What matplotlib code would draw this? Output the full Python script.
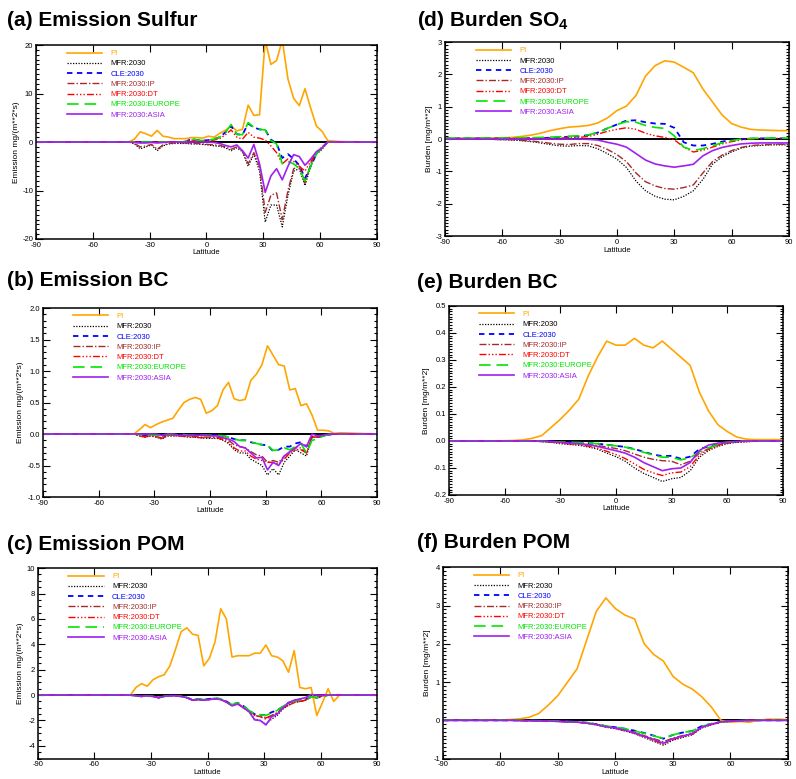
import numpy as np
import matplotlib
matplotlib.use("Agg")
import matplotlib.pyplot as plt
from matplotlib.ticker import MultipleLocator, AutoMinorLocator, FormatStrFormatter

plt.rcParams['font.family'] = ['Liberation Sans', 'DejaVu Sans']
plt.rcParams['mathtext.fontset'] = 'custom'
plt.rcParams['mathtext.rm'] = 'Liberation Sans'
plt.rcParams['mathtext.bf'] = 'Liberation Sans:bold'
plt.rcParams['axes.unicode_minus'] = False

# latitude grids (emission fields at ~3 deg, burdens at 5 deg)
lat_emis = [-90, -60, -44, -41, -38, -35, -32, -29, -26, -23, -20, -17, -14, -11,
            -8, -5, -2, 1, 4, 7, 10, 13, 16, 19, 22, 25, 28, 31, 34, 37, 40,
            43, 46, 49, 52, 55, 58, 61, 64, 67, 70, 90]
lat_burd = [-90, -85, -80, -75, -70, -65, -60, -55, -50, -45, -40, -35, -30, -25,
            -20, -15, -10, -5, 0, 5, 10, 15, 20, 25, 30, 35, 40, 45, 50, 55, 60,
            65, 70, 75, 80, 85, 90]

names = ['PI', 'MFR:2030', 'CLE:2030', 'MFR:2030:IP', 'MFR:2030:DT',
         'MFR:2030:EUROPE', 'MFR:2030:ASIA']

# (a) emission sulfur
so2_pi = [0, 0, 0, 0.0, 0.6, 2.1, 1.7, 1.2, 2.4, 1.2, 1.0, 0.7, 0.7, 0.7, 0.9, 0.9, 0.8,
          1.2, 1.0, 1.8, 2.4, 3.3, 2.3, 2.6, 7.6, 5.5, 5.6, 21.0, 16.0, 16.8, 21.0,
          13.0, 9.0, 7.5, 11.0, 7.0, 3.3, 2.2, 0.3, 0.2, 0.1, 0]
so2_mfr = [0, 0, 0, 0, -0.4, -1.4, -1.0, -0.6, -1.8, -0.8, -0.4, -0.3, -0.3, -0.3, -0.4,
           -0.4, -0.5, -0.6, -0.8, -0.9, -1.2, -1.8, -1.2, -2.0, -5.0, -2.5, -6.0, -16.5,
           -13.0, -13.0, -17.5, -11.0, -6.0, -5.5, -9.0, -5.0, -2.5, -1.5, 0, 0, 0, 0]
so2_cle = [0, 0, 0, 0, 0, 0, 0, 0, 0, 0, 0, 0, 0, 0.1, 0.6, 0.4, 0.3, 0.4, 0.6, 1.0, 2.0,
           3.3, 1.6, 1.5, 3.8, 3.0, 2.6, 2.5, 0.5, -0.3, -3.3, -2.5, -3.5, -4.8, -7.5,
           -5.0, -2.5, -1.2, 0, 0, 0, 0]
so2_ip = [0, 0, 0, 0, -0.3, -1.0, -0.8, -0.5, -1.5, -0.6, -0.3, -0.2, -0.2, -0.2, -0.3,
          -0.3, -0.4, -0.5, -0.6, -0.7, -1.0, -1.5, -1.0, -1.8, -4.5, -2.2, -5.0, -14.5,
          -11.0, -10.5, -16.0, -10.0, -5.5, -5.0, -8.5, -4.5, -2.3, -1.3, 0, 0, 0, 0]
so2_dt = [0, 0, 0, 0, 0, 0, 0, 0, 0, 0, 0, 0, 0, 0.1, 0.4, 0.3, 0.2, 0.3, 0.4, 0.7, 1.5,
          2.5, 1.0, 0.6, 2.0, 1.0, 0.8, 0.4, -0.8, -2.2, -4.5, -3.5, -4.0, -5.0, -6.0,
          -4.0, -2.2, -1.0, 0, 0, 0, 0]
so2_eur = [0, 0, 0, 0, 0, 0, 0, 0, 0, 0, 0, 0, 0, 0.1, 0.7, 0.4, 0.3, 0.4, 0.6, 1.0, 2.0,
           3.6, 1.6, 1.5, 4.0, 3.0, 2.6, 2.5, 0.3, -0.4, -4.5, -4.0, -4.5, -5.5, -8.0,
           -5.0, -2.5, -1.2, 0, 0, 0, 0]
so2_asia = [0, 0, 0, 0, -0.1, -0.2, -0.2, -0.1, -0.2, -0.1, 0, 0, 0, 0, 0, 0, 0, 0, -0.1,
            -0.3, -0.7, -1.0, -0.6, -1.8, -3.3, -0.5, -4.5, -10.4, -7.0, -5.5, -7.8,
            -5.0, -2.6, -3.0, -4.8, -3.5, -2.0, -1.2, 0, 0, 0, 0]

# (b) emission BC
bce_pi = [0, 0, 0, 0, 0.07, 0.15, 0.1, 0.15, 0.19, 0.22, 0.25, 0.38, 0.5, 0.55, 0.58,
          0.55, 0.33, 0.37, 0.45, 0.7, 0.82, 0.56, 0.53, 0.55, 0.85, 0.95, 1.1, 1.4,
          1.25, 1.1, 1.08, 0.7, 0.72, 0.45, 0.48, 0.3, 0.06, 0.06, 0.05, 0.01, 0.02, 0]
bce_mfr = [0, 0, 0, 0, -0.03, -0.05, -0.03, -0.05, -0.08, -0.03, -0.03, -0.03, -0.04,
           -0.05, -0.05, -0.06, -0.07, -0.07, -0.07, -0.1, -0.15, -0.25, -0.3, -0.3,
           -0.4, -0.45, -0.5, -0.65, -0.55, -0.65, -0.45, -0.35, -0.25, -0.3, -0.35,
           -0.05, -0.05, -0.03, -0.01, 0, 0, 0]
bce_cle = [0, 0, 0, 0, -0.01, -0.02, -0.01, -0.02, -0.03, -0.01, -0.01, -0.01, -0.01,
           -0.02, -0.02, -0.02, -0.02, -0.02, -0.02, -0.03, -0.05, -0.08, -0.1, -0.1,
           -0.13, -0.15, -0.17, -0.18, -0.27, -0.25, -0.2, -0.2, -0.15, -0.13, -0.2,
           -0.04, -0.05, -0.03, -0.01, 0, 0, 0]
bce_ip = [0, 0, 0, 0, -0.02, -0.04, -0.02, -0.04, -0.06, -0.02, -0.02, -0.02, -0.03,
          -0.04, -0.04, -0.05, -0.05, -0.05, -0.05, -0.07, -0.1, -0.17, -0.2, -0.22,
          -0.28, -0.33, -0.35, -0.45, -0.42, -0.45, -0.35, -0.3, -0.22, -0.22, -0.3,
          -0.04, -0.05, -0.03, -0.01, 0, 0, 0]
bce_dt = [0, 0, 0, 0, -0.03, -0.05, -0.03, -0.05, -0.07, -0.03, -0.03, -0.03, -0.04,
          -0.05, -0.05, -0.06, -0.06, -0.06, -0.06, -0.09, -0.13, -0.22, -0.27, -0.27,
          -0.35, -0.4, -0.42, -0.45, -0.45, -0.48, -0.4, -0.3, -0.25, -0.25, -0.3,
          -0.05, -0.05, -0.03, -0.01, 0, 0, 0]
bce_eur = [0, 0, 0, 0, -0.01, -0.02, -0.01, -0.02, -0.03, -0.01, -0.01, -0.01, -0.01,
           -0.02, -0.02, -0.02, -0.02, -0.02, -0.02, -0.03, -0.05, -0.08, -0.1, -0.1,
           -0.13, -0.15, -0.17, -0.18, -0.26, -0.25, -0.22, -0.25, -0.2, -0.15, -0.3,
           -0.1, -0.08, -0.03, -0.01, 0, 0, 0]
bce_asia = [0, 0, 0, 0, 0, 0, 0, 0, -0.02, 0, 0, -0.02, -0.02, -0.02, -0.02, -0.02,
            -0.02, -0.03, -0.03, -0.06, -0.08, -0.12, -0.2, -0.22, -0.3, -0.38, -0.37,
            -0.57, -0.45, -0.5, -0.35, -0.28, -0.22, -0.15, -0.2, 0.0, -0.03, -0.02,
            0, 0, 0, 0]

# (c) emission POM
pome_pi = [0, 0, 0, 0, 0.6, 0.9, 0.7, 1.2, 1.45, 1.6, 2.3, 3.6, 5.0, 5.3, 4.8, 4.7, 2.3,
           2.9, 4.2, 6.8, 6.0, 3.0, 3.1, 3.1, 3.1, 3.3, 3.3, 3.95, 3.1, 3.0, 2.7, 1.8,
           3.5, 0.6, 0.5, 0.6, -1.6, -0.6, 0.5, -0.5, 0.0, 0]
pome_mfr = [0, 0, 0, 0, -0.05, -0.1, -0.05, -0.1, -0.2, -0.1, -0.05, -0.05, -0.1, -0.2,
            -0.4, -0.35, -0.4, -0.35, -0.3, -0.35, -0.55, -0.85, -0.7, -1.0, -1.3, -1.9,
            -2.0, -2.3, -1.9, -1.6, -1.1, -0.8, -0.55, -0.5, -0.4, -0.15, -0.2, -0.05,
            0, 0, 0, 0]
pome_cle = [0, 0, 0, 0, -0.05, -0.1, -0.05, -0.1, -0.2, -0.1, -0.05, -0.05, -0.1, -0.2,
            -0.35, -0.3, -0.35, -0.3, -0.25, -0.3, -0.5, -0.75, -0.6, -0.85, -1.2, -1.5,
            -1.55, -1.6, -1.35, -1.2, -0.9, -0.6, -0.45, -0.35, -0.3, -0.15, -0.2, -0.1,
            0, 0, 0, 0]
pome_ip = [0, 0, 0, 0, -0.05, -0.1, -0.05, -0.1, -0.2, -0.1, -0.05, -0.05, -0.1, -0.2,
           -0.4, -0.35, -0.4, -0.35, -0.3, -0.35, -0.55, -0.8, -0.65, -0.95, -1.25, -1.6,
           -1.7, -1.9, -1.6, -1.4, -1.0, -0.8, -0.6, -0.5, -0.4, -0.15, -0.2, -0.05,
           0, 0, 0, 0]
pome_dt = [0, 0, 0, 0, -0.05, -0.1, -0.05, -0.1, -0.2, -0.1, -0.05, -0.05, -0.1, -0.2,
           -0.4, -0.35, -0.4, -0.35, -0.3, -0.35, -0.55, -0.8, -0.65, -0.95, -1.25, -1.6,
           -1.7, -1.8, -1.6, -1.4, -1.05, -0.75, -0.55, -0.5, -0.4, -0.15, -0.2, -0.05,
           0, 0, 0, 0]
pome_eur = [0, 0, 0, 0, -0.05, -0.1, -0.05, -0.1, -0.2, -0.1, -0.05, -0.05, -0.1, -0.2,
            -0.35, -0.3, -0.35, -0.3, -0.25, -0.3, -0.5, -0.75, -0.6, -0.85, -1.2, -1.5,
            -1.55, -1.6, -1.4, -1.2, -0.9, -0.6, -0.45, -0.35, -0.3, -0.15, -0.2, -0.1,
            0, 0, 0, 0]
pome_asia = [0, 0, 0, 0, -0.05, -0.1, -0.05, -0.1, -0.2, -0.1, -0.05, -0.05, -0.1, -0.2,
             -0.4, -0.35, -0.4, -0.35, -0.3, -0.35, -0.55, -0.85, -0.7, -1.0, -1.3,
             -1.95, -2.0, -2.35, -1.7, -1.5, -1.0, -0.6, -0.4, -0.3, -0.2, 0.05, 0.0,
             0, 0, 0, 0, 0]

# (d) burden SO4
so4_pi = [0.02, 0.02, 0.02, 0.02, 0.03, 0.03, 0.04, 0.05, 0.08, 0.12, 0.18, 0.26, 0.32,
          0.37, 0.39, 0.42, 0.5, 0.65, 0.88, 1.02, 1.35, 1.95, 2.27, 2.42, 2.38, 2.22,
          2.05, 1.55, 1.15, 0.75, 0.48, 0.37, 0.3, 0.28, 0.27, 0.26, 0.26]
so4_mfr = [0, 0, 0, 0, 0, -0.01, -0.02, -0.03, -0.05, -0.08, -0.12, -0.17, -0.21, -0.22,
           -0.2, -0.21, -0.3, -0.45, -0.62, -0.88, -1.3, -1.6, -1.77, -1.86, -1.88,
           -1.77, -1.6, -1.25, -0.78, -0.55, -0.4, -0.28, -0.22, -0.2, -0.18, -0.18, -0.18]
so4_cle = [0.02, 0.02, 0.02, 0.02, 0.02, 0.02, 0.02, 0.02, 0.02, 0.03, 0.03, 0.04, 0.05,
           0.07, 0.08, 0.12, 0.2, 0.33, 0.45, 0.57, 0.58, 0.52, 0.48, 0.47, 0.35, -0.1,
           -0.2, -0.2, -0.15, -0.08, -0.03, 0.0, 0.01, 0.02, 0.02, 0.02, 0.02]
so4_ip = [0, 0, 0, 0, 0, -0.01, -0.02, -0.02, -0.04, -0.06, -0.09, -0.13, -0.16, -0.17,
          -0.14, -0.14, -0.2, -0.32, -0.48, -0.7, -1.05, -1.32, -1.45, -1.53, -1.55, -1.5,
          -1.42, -1.05, -0.7, -0.5, -0.36, -0.26, -0.2, -0.18, -0.17, -0.16, -0.16]
so4_dt = [0.02, 0.02, 0.02, 0.02, 0.02, 0.02, 0.02, 0.02, 0.02, 0.02, 0.02, 0.02, 0.03,
          0.04, 0.05, 0.08, 0.15, 0.24, 0.3, 0.35, 0.3, 0.18, 0.1, 0.05, -0.02, -0.25,
          -0.4, -0.35, -0.25, -0.15, -0.08, -0.03, 0.0, 0.01, 0.02, 0.02, 0.02]
so4_eur = [0.03, 0.03, 0.03, 0.03, 0.03, 0.03, 0.03, 0.03, 0.04, 0.04, 0.05, 0.06, 0.07,
           0.09, 0.1, 0.13, 0.2, 0.33, 0.45, 0.54, 0.52, 0.42, 0.36, 0.33, 0.1, -0.25,
           -0.35, -0.3, -0.2, -0.12, -0.05, 0.0, 0.02, 0.03, 0.03, 0.03, 0.03]
so4_asia = [0, 0, 0, 0, 0, 0, 0, 0, 0, 0, 0, 0, 0, 0, 0, -0.01, -0.03, -0.1, -0.16,
            -0.25, -0.45, -0.65, -0.77, -0.83, -0.87, -0.83, -0.78, -0.52, -0.36, -0.26,
            -0.2, -0.15, -0.13, -0.12, -0.12, -0.12, -0.12]

# (e) burden BC
bcb_pi = [0, 0, 0, 0, 0, 0, 0.001, 0.002, 0.004, 0.01, 0.02, 0.05, 0.08, 0.115, 0.155,
          0.24, 0.31, 0.37, 0.355, 0.355, 0.38, 0.355, 0.345, 0.37, 0.34, 0.31, 0.28,
          0.18, 0.11, 0.06, 0.035, 0.015, 0.007, 0.005, 0.005, 0.005, 0.005]
bcb_mfr = [0, 0, 0, 0, 0, 0, 0, 0, 0, 0, -0.002, -0.005, -0.01, -0.013, -0.016, -0.022,
           -0.03, -0.045, -0.058, -0.075, -0.1, -0.12, -0.135, -0.15, -0.14, -0.135,
           -0.11, -0.06, -0.035, -0.02, -0.01, -0.005, -0.003, -0.001, -0.001, -0.001,
           -0.001]
bcb_cle = [0, 0, 0, 0, 0, 0, 0, 0, 0, 0, -0.001, -0.002, -0.004, -0.005, -0.006, -0.008,
           -0.01, -0.014, -0.018, -0.022, -0.03, -0.04, -0.05, -0.056, -0.055, -0.066,
           -0.058, -0.03, -0.02, -0.01, -0.005, -0.002, 0, 0, 0, 0, 0]
bcb_ip = [0, 0, 0, 0, 0, 0, 0, 0, 0, 0, -0.001, -0.003, -0.006, -0.008, -0.01, -0.013,
          -0.017, -0.022, -0.028, -0.036, -0.048, -0.06, -0.068, -0.073, -0.075, -0.088,
          -0.075, -0.045, -0.028, -0.015, -0.007, -0.003, -0.001, 0, 0, 0, 0]
bcb_dt = [0, 0, 0, 0, 0, 0, 0, 0, 0, 0, -0.002, -0.004, -0.008, -0.011, -0.014, -0.019,
          -0.026, -0.038, -0.05, -0.065, -0.085, -0.105, -0.118, -0.128, -0.118, -0.115,
          -0.095, -0.052, -0.03, -0.017, -0.008, -0.004, -0.002, -0.001, -0.001, -0.001,
          -0.001]
bcb_eur = [0, 0, 0, 0, 0, 0, 0, 0, 0, 0, -0.001, -0.002, -0.004, -0.005, -0.006, -0.008,
           -0.01, -0.014, -0.018, -0.023, -0.031, -0.042, -0.052, -0.06, -0.06, -0.07,
           -0.062, -0.04, -0.025, -0.012, -0.005, -0.002, 0, 0, 0, 0, 0]
bcb_asia = [0, 0, 0, 0, 0, 0, 0, 0, 0, 0, -0.001, -0.002, -0.005, -0.008, -0.01, -0.014,
            -0.02, -0.028, -0.036, -0.045, -0.06, -0.08, -0.095, -0.11, -0.103, -0.1,
            -0.08, -0.035, -0.015, -0.008, -0.004, -0.002, 0, 0, 0, 0, 0]

# (f) burden POM
pomb_pi = [0.005, 0.005, 0.005, 0.005, 0.005, 0.006, 0.008, 0.02, 0.04, 0.08, 0.18, 0.4,
           0.65, 1.0, 1.35, 2.1, 2.85, 3.2, 2.92, 2.75, 2.65, 2.0, 1.72, 1.55, 1.15, 0.95,
           0.82, 0.62, 0.35, 0.0, -0.05, -0.03, -0.05, 0.01, 0.03, 0.03, 0.02]
pomb_mfr = [0, 0, 0, 0, 0, 0, 0, 0, -0.005, -0.01, -0.015, -0.02, -0.03, -0.04, -0.05,
            -0.08, -0.12, -0.18, -0.22, -0.28, -0.35, -0.45, -0.55, -0.65, -0.52, -0.45,
            -0.38, -0.2, -0.12, -0.05, -0.02, -0.01, 0, 0, 0, 0, 0]
pomb_cle = [0, 0, 0, 0, 0, 0, 0, 0, 0, -0.005, -0.01, -0.015, -0.02, -0.03, -0.04, -0.06,
            -0.1, -0.15, -0.18, -0.22, -0.27, -0.33, -0.4, -0.48, -0.38, -0.32, -0.28,
            -0.15, -0.09, -0.04, -0.02, -0.01, 0, 0, 0, 0, 0]
pomb_ip = [0, 0, 0, 0, 0, 0, 0, 0, -0.004, -0.008, -0.012, -0.017, -0.025, -0.034, -0.043,
           -0.07, -0.1, -0.15, -0.2, -0.25, -0.31, -0.4, -0.48, -0.56, -0.46, -0.4, -0.34,
           -0.18, -0.1, -0.04, -0.02, -0.01, 0, 0, 0, 0, 0]
pomb_dt = [0, 0, 0, 0, 0, 0, 0, 0, -0.005, -0.01, -0.014, -0.019, -0.028, -0.038, -0.047,
           -0.075, -0.11, -0.17, -0.21, -0.27, -0.34, -0.43, -0.53, -0.62, -0.5, -0.43,
           -0.37, -0.19, -0.11, -0.05, -0.02, -0.01, 0, 0, 0, 0, 0]
pomb_eur = [0, 0, 0, 0, 0, 0, 0, 0, 0, -0.005, -0.01, -0.015, -0.02, -0.03, -0.04, -0.06,
            -0.1, -0.15, -0.18, -0.22, -0.28, -0.34, -0.41, -0.47, -0.38, -0.32, -0.28,
            -0.16, -0.09, -0.04, -0.02, -0.01, 0, 0, 0, 0, 0]
pomb_asia = [0, 0, 0, 0, 0, 0, 0, 0, -0.005, -0.01, -0.014, -0.019, -0.028, -0.038,
             -0.047, -0.075, -0.11, -0.17, -0.2, -0.26, -0.33, -0.42, -0.5, -0.6, -0.48,
             -0.41, -0.35, -0.18, -0.1, -0.04, -0.02, -0.01, 0, 0, 0, 0, 0]

colors = ['#ffa500', 'black', '#0000ff', '#a52a2a', '#ff0000', '#00e600', '#a020f0']
styles = ['-', (0, (1, 1.2)), (0, (3, 2.5)), (0, (5, 1.5, 1, 1.5)),
          (0, (5, 1.5, 1, 1.5, 1, 1.5, 1, 1.5)), (0, (7, 3.5)), '-']
widths = [1.2, 0.9, 1.3, 1.0, 1.0, 1.2, 1.2]


def draw_panel(fig, rect, lat, series, ylim, ystep, nminor, yfmt, ylabel, title, tx, ty):
    ax = fig.add_axes(rect)
    ax.axhline(0, color='black', lw=1.4, zorder=1.5)
    for vals, name, c, ls, lw in zip(series, names, colors, styles, widths):
        ax.plot(lat, vals, color=c, ls=ls, lw=lw, label=name, zorder=2)
    ax.set_xlim(-90, 90)
    ax.set_ylim(*ylim)
    ax.xaxis.set_major_locator(MultipleLocator(30))
    ax.yaxis.set_major_locator(MultipleLocator(ystep))
    ax.yaxis.set_minor_locator(AutoMinorLocator(nminor))
    ax.yaxis.set_major_formatter(FormatStrFormatter(yfmt))
    ax.tick_params(axis='both', which='both', direction='in', top=True, right=True,
                   labelsize=5.5, width=0.8, pad=2)
    ax.tick_params(axis='both', which='major', length=5)
    ax.tick_params(axis='y', which='minor', length=2.5)
    for s in ax.spines.values():
        s.set_linewidth(1.1)
    ax.set_xlabel('Latitude', fontsize=5.5, labelpad=0.5)
    ax.set_ylabel(ylabel, fontsize=6, labelpad=2)
    ax.legend(loc='upper left', bbox_to_anchor=(0.09, 0.975), frameon=False,
              fontsize=5.5, labelcolor='linecolor', handlelength=4.6,
              handletextpad=1.1, labelspacing=0.38, borderpad=0, borderaxespad=0)
    fig.text(tx / 796, 1 - ty / 779, title, fontsize=15, fontweight='bold',
             ha='left', va='center')
    return ax


fig = plt.figure(figsize=(7.96, 7.79), dpi=100)

emis_lab = 'Emission mg/(m**2*s)'
burd_lab = 'Burden [mg/m**2]'

draw_panel(fig, [0.0452, 0.6932, 0.4284, 0.249], lat_emis,
           [so2_pi, so2_mfr, so2_cle, so2_ip, so2_dt, so2_eur, so2_asia],
           (-20, 20), 10, 10, '%d', emis_lab, '(a) Emission Sulfur', 7, 20)
draw_panel(fig, [0.054, 0.362, 0.4196, 0.2426], lat_emis,
           [bce_pi, bce_mfr, bce_cle, bce_ip, bce_dt, bce_eur, bce_asia],
           (-1, 2), 0.5, 5, '%.1f', emis_lab, '(b) Emission BC', 7, 280)
draw_panel(fig, [0.0477, 0.0262, 0.426, 0.2445], lat_emis,
           [pome_pi, pome_mfr, pome_cle, pome_ip, pome_dt, pome_eur, pome_asia],
           (-5, 10), 2, 4, '%d', emis_lab, '(c) Emission POM', 7, 544)
draw_panel(fig, [0.559, 0.697, 0.432, 0.249], lat_burd,
           [so4_pi, so4_mfr, so4_cle, so4_ip, so4_dt, so4_eur, so4_asia],
           (-3, 3), 1, 10, '%d', burd_lab, r'(d) Burden SO$_\mathbf{4}$', 417, 21)
draw_panel(fig, [0.564, 0.3646, 0.4196, 0.2426], lat_burd,
           [bcb_pi, bcb_mfr, bcb_cle, bcb_ip, bcb_dt, bcb_eur, bcb_asia],
           (-0.2, 0.5), 0.1, 10, '%.1f', burd_lab, '(e) Burden BC', 417, 283)
draw_panel(fig, [0.5565, 0.0262, 0.4334, 0.2455], lat_burd,
           [pomb_pi, pomb_mfr, pomb_cle, pomb_ip, pomb_dt, pomb_eur, pomb_asia],
           (-1, 4), 1, 10, '%d', burd_lab, '(f) Burden POM', 417, 543)

fig.savefig('out.png', dpi=100)
